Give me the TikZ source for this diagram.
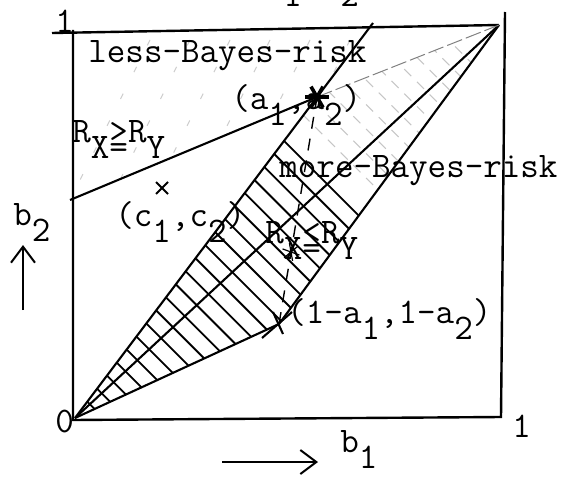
\documentclass[tikz,border=0pt]{standalone}
\usepackage{fontspec}
\usetikzlibrary{arrows.meta, calc}

\newcommand{\typew}{\ttfamily\addfontfeatures{FakeBold=0.6}\fontsize{18}{20}\selectfont}
\newcommand{\lowc}[1]{\raisebox{-8pt}{#1}}
\newcommand{\gtover}{\rlap{>}\lowc{=}}
\newcommand{\ltover}{\rlap{<}\lowc{=}}

\begin{document}
\begin{tikzpicture}[x=0.5pt, y=-0.5pt,
        frame/.style = {line width=1.2pt},
        line/.style = {line width=1.05pt},
        faint line/.style = {line width=0.5pt, gray, dash pattern=on 8pt off 2pt},
        dashed line/.style = {line width=0.7pt, dash pattern=on 6pt off 5pt},
        hatch/.style = {line width=0.9pt},
        faint hatch/.style = {line width=0.5pt, gray!45, dash pattern=on 5pt off 4pt},
        speck/.style = {line width=0.5pt, gray!40, dash pattern=on 3pt off 12pt},
        lbl/.style = {font=\typew, inner sep=0pt, anchor=base west},
        axis arrow/.style = {-{Straight Barb[length=8pt, width=12pt]}, line width=1pt}
    ]
    \useasboundingbox (0,0) rectangle (572,476);

    % Points
    \coordinate (O) at (75,418);
    \coordinate (T) at (499,25);
    \coordinate (A) at (317,97);
    \coordinate (B) at (279,324);
    \coordinate (S) at (291,252);
    \coordinate (C) at (162,188);
    \coordinate (OAtop) at (373,23);
    \coordinate (Lleft) at (70,200);

    % Frame
    \coordinate (tl0) at (52,33);
    \coordinate (tl) at (73,30);
    \coordinate (tr) at (505,12);
    \coordinate (br) at (501,417);
    \coordinate (bl) at (73,420);
    \draw[frame] (tl0) -- (T);
    \draw[frame] (tl) -- (bl) -- (br) -- (tr);

    % Hatching
    \begin{scope}
        \clip (O) -- (B) -- (T) -- (A) -- cycle;
        \foreach \t in {0.035,0.063,...,0.62}
            \draw[hatch] ($(O)!\t!(T)+(-150,-150)$) -- ++(300,300);
        \foreach \t in {0.65,0.68,...,0.92}
            \draw[faint hatch] ($(O)!\t!(T)+(-150,-150)$) -- ++(300,300);
    \end{scope}
    \begin{scope}
        \clip (tl) -- (OAtop) -- (A) -- (Lleft) -- cycle;
        \foreach \x in {40,80,...,440}
            \draw[speck] (\x,260) -- ++(120,-240);
    \end{scope}

    % Lines
    \draw[line] (O) -- (OAtop);
    \draw[line] (O) -- (T);
    \draw[line] (O) -- (B);
    \draw[line] (T) -- (B);
    \draw[line] (Lleft) -- (A);
    \draw[faint line] (A) -- (T);
    \draw[dashed line] (B) -- (A);

    % Marks
    \foreach \a in {0,60,120}
        \draw[line width=1.8pt] ($(A)+(\a:12)$) -- ($(A)+(\a+180:12)$);
    \foreach \a in {20,80,140}
        \draw[line width=0.6pt] ($(S)+(\a:9)$) -- ($(S)+(\a+180:9)$);
    \draw[line] ($(C)+(-6,-6)$) -- ($(C)+(6,6)$);
    \draw[line] ($(C)+(-6,6)$) -- ($(C)+(6,-6)$);
    \draw[line] ($(B)+(-17,14)$) -- ($(B)+(13,-12)$);
    \draw[line] ($(B)+(-6,-12)$) -- ($(B)+(4,10)$);

    % Labels
    \node[lbl] (less) at (88,63) {less-Bayes-risk};
    \node[lbl] (alabel) at (231,110) {(a\lowc{1},a\lowc{2})};
    \node[lbl] (geq) at (72,142) {R\lowc{X}\gtover R\lowc{Y}};
    \node[lbl] (clabel) at (115,226) {(c\lowc{1},c\lowc{2})};
    \node[lbl] (more) at (279,177) {more-Bayes-risk};
    \node[lbl] (leq) at (265,243) {R\lowc{X}\ltover R\lowc{Y}};
    \node[lbl] (blabel) at (287,323) {(1-a\lowc{1},1-a\lowc{2})};
    \node[lbl] (onetop) at (55,33) {1};
    \node[lbl] (zero) at (55,432) {0};
    \node[lbl] (oneright) at (512,437) {1};
    \node[lbl] (bone) at (340,452) {b\lowc{1}};
    \node[lbl] (btwo) at (13,225) {b\lowc{2}};
    \node[lbl] (cutone) at (283,7) {1};
    \node[lbl] (cuttwo) at (340,7) {2};

    % Axis arrows
    \coordinate (b2tail) at (23,310);
    \coordinate (b2head) at (23,245);
    \coordinate (b1tail) at (222,462);
    \coordinate (b1head) at (318,462);
    \draw[axis arrow] (b2tail) -- (b2head);
    \draw[axis arrow] (b1tail) -- (b1head);

\end{tikzpicture}
\end{document}
